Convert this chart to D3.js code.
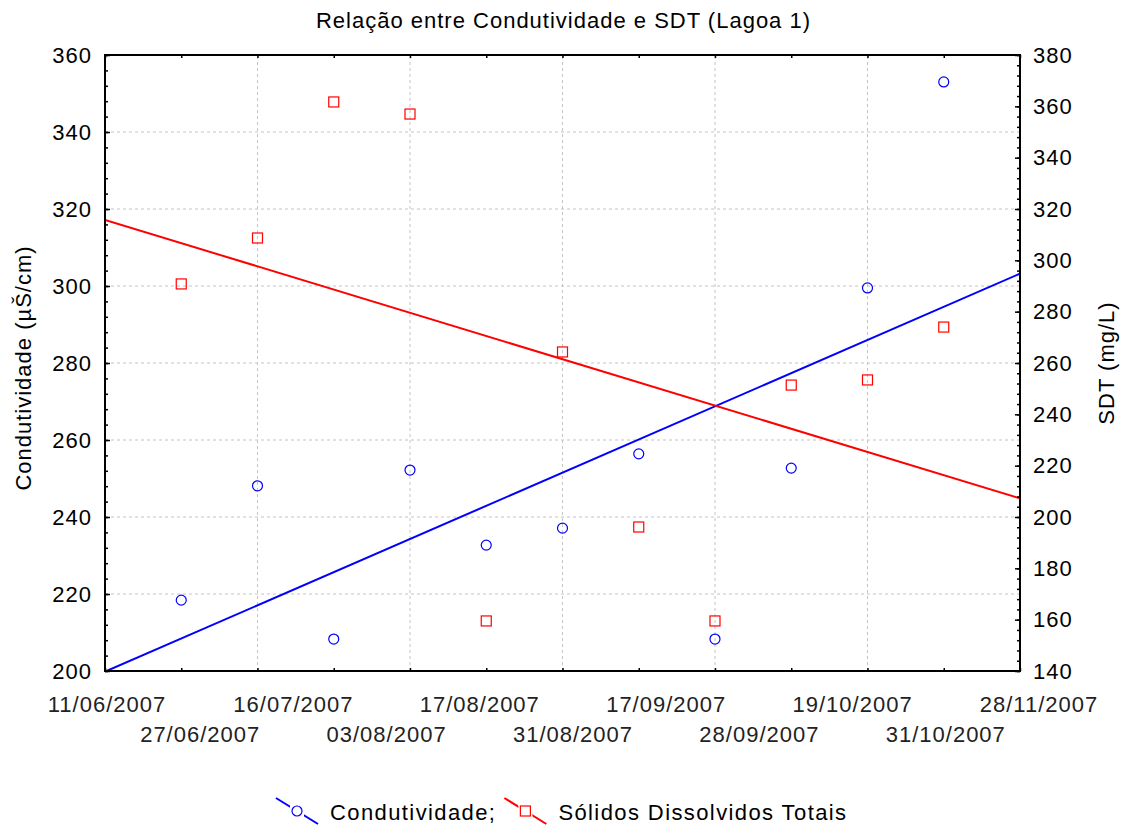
<!DOCTYPE html>
<html>
<head>
<meta charset="utf-8">
<script src="https://cdn.jsdelivr.net/npm/d3@7"></script>
<style>
  html, body { margin: 0; padding: 0; background: #fff; }
  svg { display: block; font-family: "Liberation Sans", Arial, sans-serif; }
</style>
</head>
<body>
<svg id="chart" width="1127" height="828"></svg>
<script>
// Sampling dates shown under the horizontal axis
const dateLabels = ["11/06/2007", "27/06/2007", "16/07/2007", "03/08/2007", "17/08/2007",
  "31/08/2007", "17/09/2007", "28/09/2007", "19/10/2007", "31/10/2007", "28/11/2007"];

// Conductivity (µS/cm), left axis — one value per sample (cases 1..11)
const condutividade = [218.4, 248.1, 208.3, 252.2, 232.7, 237.1, 256.4, 208.3, 252.7, 299.5, 353.0];

// Total dissolved solids (mg/L), right axis
const sdt = [290.8, 308.7, 361.7, 357.0, 159.5, 264.3, 196.1, 159.5, 251.4, 253.4, 274.0];

// Axis tick values
const leftTicks = [200, 220, 240, 260, 280, 300, 320, 340, 360];
const rightTicks = [140, 160, 180, 200, 220, 240, 260, 280, 300, 320, 340, 360, 380];
const caseDomain = [0, 12];

const svg = d3.select("#chart");
const W = 1127;
const margin = { left: 105, top: 55, right: 107, bottom: 157 };
const plotW = W - margin.left - margin.right;   // 915
const plotH = 828 - margin.top - margin.bottom;  // 616
const FONT = 22;

const x = d3.scaleLinear().domain(caseDomain).range([margin.left, margin.left + plotW]);
const yL = d3.scaleLinear().domain([leftTicks[0], leftTicks[leftTicks.length - 1]])
  .range([margin.top + plotH, margin.top]);
const yR = d3.scaleLinear().domain([rightTicks[0], rightTicks[rightTicks.length - 1]])
  .range([margin.top + plotH, margin.top]);

// Title
svg.append("text")
  .attr("x", W / 2).attr("y", 28)
  .attr("text-anchor", "middle")
  .attr("font-size", 22).attr("letter-spacing", 1)
  .attr("fill", "#000")
  .text("Relação entre Condutividade e SDT (Lagoa 1)");

// Grid (dashed)
const grid = svg.append("g").attr("stroke", "#c4c4c4").attr("stroke-width", 1)
  .attr("stroke-dasharray", "3,3");
leftTicks.slice(1, -1).forEach(v => {
  grid.append("line").attr("x1", x(caseDomain[0])).attr("x2", x(caseDomain[1]))
    .attr("y1", yL(v)).attr("y2", yL(v));
});
d3.range(2, caseDomain[1], 2).forEach(c => {
  grid.append("line").attr("x1", x(c)).attr("x2", x(c))
    .attr("y1", yL.range()[0]).attr("y2", yL.range()[1]);
});

// Linear fits against case number
function fit(values) {
  const xs = values.map((_, i) => i + 1);
  const mx = d3.mean(xs), my = d3.mean(values);
  const sxy = d3.sum(xs, (xi, i) => (xi - mx) * (values[i] - my));
  const sxx = d3.sum(xs, xi => (xi - mx) ** 2);
  const b = sxy / sxx;
  const a = my - b * mx;
  return c => a + b * c;
}

const series = [
  { name: "Condutividade;", values: condutividade, y: yL, color: "#0000ff", shape: "circle" },
  { name: "Sólidos Dissolvidos Totais", values: sdt, y: yR, color: "#ff0000", shape: "square" }
];

svg.append("clipPath").attr("id", "plotClip").append("rect")
  .attr("x", margin.left).attr("y", margin.top).attr("width", plotW).attr("height", plotH);

series.forEach(s => {
  const f = fit(s.values);
  svg.append("line")
    .attr("clip-path", "url(#plotClip)")
    .attr("x1", x(caseDomain[0])).attr("y1", s.y(f(caseDomain[0])))
    .attr("x2", x(caseDomain[1])).attr("y2", s.y(f(caseDomain[1])))
    .attr("stroke", s.color).attr("stroke-width", 2);
});

function drawMarker(g, shape, color, cx, cy) {
  if (shape === "circle") {
    g.append("circle").attr("cx", cx).attr("cy", cy).attr("r", 5)
      .attr("fill", "none").attr("stroke", color).attr("stroke-width", 1.2);
  } else {
    g.append("rect").attr("x", cx - 5).attr("y", cy - 5).attr("width", 10).attr("height", 10)
      .attr("fill", "none").attr("stroke", color).attr("stroke-width", 1.2);
  }
}

series.forEach(s => {
  const g = svg.append("g");
  s.values.forEach((v, i) => drawMarker(g, s.shape, s.color, x(i + 1), s.y(v)));
});

// Axes: ticks point inward
const caseTicks = d3.range(caseDomain[0], caseDomain[1] + 1);
svg.append("g").attr("transform", `translate(0,${margin.top + plotH})`)
  .call(d3.axisBottom(x).tickValues(caseTicks).tickSize(-3).tickFormat(""));
svg.append("g").attr("transform", `translate(0,${margin.top})`)
  .call(d3.axisTop(x).tickValues(caseTicks).tickSize(-3).tickFormat(""));

const leftMinor = d3.range(leftTicks[0], leftTicks[leftTicks.length - 1] + 1, 4);
svg.append("g").attr("transform", `translate(${margin.left},0)`)
  .call(d3.axisLeft(yL).tickValues(leftMinor).tickSize(-3).tickFormat(""));
svg.append("g").attr("class", "yl").attr("transform", `translate(${margin.left},0)`)
  .call(d3.axisLeft(yL).tickValues(leftTicks).tickSize(-5).tickPadding(13).tickFormat(d3.format("d")));

const rightMinor = d3.range(rightTicks[0], rightTicks[rightTicks.length - 1] + 1, 4);
svg.append("g").attr("transform", `translate(${margin.left + plotW},0)`)
  .call(d3.axisRight(yR).tickValues(rightMinor).tickSize(-3).tickFormat(""));
svg.append("g").attr("class", "yr").attr("transform", `translate(${margin.left + plotW},0)`)
  .call(d3.axisRight(yR).tickValues(rightTicks).tickSize(-5).tickPadding(13).tickFormat(d3.format("d")));

svg.selectAll(".domain").remove();
svg.selectAll(".tick line").attr("stroke", "#000").attr("stroke-width", 1.5);
svg.selectAll(".yl text, .yr text")
  .attr("font-size", FONT).attr("letter-spacing", 1).attr("fill", "#000")
  .attr("font-family", "'Liberation Sans', Arial, sans-serif");

// Plot frame
svg.append("rect")
  .attr("x", margin.left).attr("y", margin.top).attr("width", plotW).attr("height", plotH)
  .attr("fill", "none").attr("stroke", "#000").attr("stroke-width", 2);

// Date labels, staggered on two rows
const dateScale = d3.scalePoint().domain(dateLabels)
  .range([x(caseDomain[0]) + 2, x(caseDomain[1]) + 19]);
svg.append("g").selectAll("text").data(dateLabels).join("text")
  .attr("x", d => dateScale(d))
  .attr("y", (d, i) => i % 2 === 0 ? 712 : 742)
  .attr("text-anchor", "middle")
  .attr("font-size", FONT).attr("letter-spacing", 1)
  .attr("fill", "#222")
  .text(d => d);

// Axis titles
svg.append("text")
  .attr("transform", `translate(31,${margin.top + plotH / 2 + 5}) rotate(-90)`)
  .attr("text-anchor", "middle")
  .attr("font-size", FONT).attr("letter-spacing", 1)
  .text("Condutividade (µŠ/cm)");
svg.append("text")
  .attr("transform", `translate(1114,${margin.top + plotH / 2}) rotate(-90)`)
  .attr("text-anchor", "middle")
  .attr("font-size", FONT).attr("letter-spacing", 1)
  .text("SDT (mg/L)");

// Legend
const legend = svg.append("g");
let lx = 276;
series.forEach(s => {
  const g = legend.append("g");
  g.append("line").attr("x1", lx).attr("y1", 798).attr("x2", lx + 42).attr("y2", 824)
    .attr("stroke", s.color).attr("stroke-width", 2);
  g.append("rect").attr("x", lx + 21 - 7).attr("y", 811 - 7).attr("width", 14).attr("height", 14)
    .attr("fill", "#fff");
  drawMarker(g, s.shape, s.color, lx + 21, 811);
  const t = g.append("text").attr("x", lx + 54).attr("y", 820)
    .attr("font-size", FONT).attr("letter-spacing", 1.4)
    .text(s.name);
  lx = lx + 54 + t.node().getComputedTextLength() + 8;
});
</script>
</body>
</html>
